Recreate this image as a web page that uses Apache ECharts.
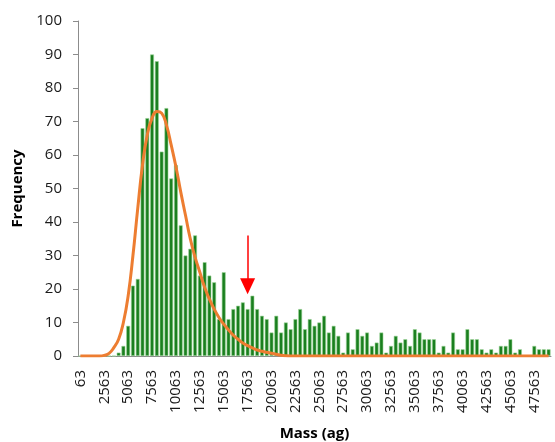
<!DOCTYPE html>
<html>
<head>
<meta charset="utf-8">
<title>Mass histogram</title>
<script src="https://cdn.jsdelivr.net/npm/echarts@6/dist/echarts.min.js"></script>
<style>
    html, body { margin: 0; padding: 0; background: #fff; }
    #chart { width: 555px; height: 442px; }
</style>
</head>
<body>
<div id="chart"></div>
<script>
// 分类（质量区间，单位 ag）
var massBins = [
    '63', '563', '1063', '1563', '2063', '2563', '3063', '3563', '4063', '4563',
    '5063', '5563', '6063', '6563', '7063', '7563', '8063', '8563', '9063', '9563',
    '10063', '10563', '11063', '11563', '12063', '12563', '13063', '13563', '14063', '14563',
    '15063', '15563', '16063', '16563', '17063', '17563', '18063', '18563', '19063', '19563',
    '20063', '20563', '21063', '21563', '22063', '22563', '23063', '23563', '24063', '24563',
    '25063', '25563', '26063', '26563', '27063', '27563', '28063', '28563', '29063', '29563',
    '30063', '30563', '31063', '31563', '32063', '32563', '33063', '33563', '34063', '34563',
    '35063', '35563', '36063', '36563', '37063', '37563', '38063', '38563', '39063', '39563',
    '40063', '40563', '41063', '41563', '42063', '42563', '43063', '43563', '44063', '44563',
    '45063', '45563', '46063', '46563', '47063', '47563', '48063', '48563', '49063'
];

// 频数（柱子）
var frequency = [
    0, 0, 0, 0, 0, 0, 0, 0, 1, 3,
    9, 21, 23, 68, 71, 90, 88, 61, 74, 53,
    57, 39, 30, 32, 36, 24, 28, 24, 22, 11,
    25, 11, 14, 15, 16, 14, 18, 14, 12, 11,
    7, 12, 7, 10, 8, 11, 14, 8, 11, 9,
    10, 12, 7, 9, 6, 1, 7, 2, 8, 6,
    7, 3, 4, 7, 1, 3, 6, 4, 5, 3,
    8, 7, 5, 5, 5, 1, 3, 1, 7, 2,
    2, 8, 5, 5, 2, 1, 2, 1, 3, 3,
    5, 1, 2, 0, 0, 3, 2, 2, 2
];

// 拟合曲线（橙色）
var fitCurve = [
    0, 0, 0, 0, 0, 0.2, 0.8, 2.5, 5, 10,
    18, 30, 44, 57, 66, 71, 73, 72.5, 69, 63,
    56.5, 49, 42, 35, 29.5, 25, 20.5, 17, 14, 11.5,
    9.5, 7.8, 6.2, 5, 3.9, 3.1, 2.4, 1.8, 1.4, 1.1,
    0.8, 0.5, 0.2, 0.05, 0, 0, 0, 0, 0, 0,
    0, 0, 0, 0, 0, 0, 0, 0, 0, 0,
    0, 0, 0, 0, 0, 0, 0, 0, 0, 0,
    0, 0, 0, 0, 0, 0, 0, 0, 0, 0,
    0, 0, 0, 0, 0, 0, 0, 0, 0, 0,
    0, 0, 0, 0, 0, 0, 0, 0, 0
];

// 红色箭头：所在区间及起止高度
var arrowBin = '17563';
var arrowFrom = [36];
var arrowTo = [20.8];

(function () {
    var font = '"Open Sans", "DejaVu Sans", sans-serif';
    var axisGray = '#8c8c8c';

    var option = {
        animation: false,
        textStyle: { fontFamily: font },
        grid: {
            left: 78,
            right: 4,
            top: 21,
            bottom: 86,
            outerBoundsMode: 'none'   // 不自动收缩绘图区
        },
        xAxis: {
            type: 'category',
            data: massBins,
            boundaryGap: true,
            name: 'Mass (ag)',
            nameLocation: 'middle',
            nameGap: 70,
            nameTextStyle: { fontSize: 15, fontWeight: 'bold', color: '#000', fontFamily: font },
            axisLine: { lineStyle: { color: axisGray, width: 1 } },
            axisTick: { interval: 0, length: 4, lineStyle: { color: axisGray } },
            axisLabel: {
                interval: 4,
                rotate: 90,
                margin: 14,
                fontSize: 15,
                color: '#1a1a1a',
                fontFamily: font
            },
            splitLine: { show: false }
        },
        yAxis: {
            type: 'value',
            min: 0,
            max: 100,
            interval: 10,
            name: 'Frequency',
            nameLocation: 'middle',
            nameGap: 52,
            nameTextStyle: { fontSize: 15, fontWeight: 'bold', color: '#000', fontFamily: font },
            axisLine: { show: true, lineStyle: { color: axisGray, width: 1 } },
            axisTick: { show: true, length: 5, lineStyle: { color: axisGray } },
            axisLabel: { fontSize: 15, color: '#1a1a1a', margin: 16, fontFamily: font },
            splitLine: { show: false }
        },
        series: [
            {
                name: 'Frequency',
                type: 'bar',
                data: frequency,
                barCategoryGap: '20%',
                itemStyle: {
                    color: '#1a7f1f',
                    borderColor: '#9bd396',
                    borderWidth: 0.6
                },
                markLine: {
                    silent: true,
                    symbol: ['none', 'triangle'],
                    symbolSize: [15, 16],
                    label: { show: false },
                    lineStyle: { color: '#ff0000', width: 1.5, type: 'solid' },
                    data: [
                        [
                            { coord: [arrowBin, arrowFrom[0]] },
                            { coord: [arrowBin, arrowTo[0]] }
                        ]
                    ]
                }
            },
            {
                name: 'Fit',
                type: 'line',
                data: fitCurve,
                smooth: true,
                symbol: 'none',
                z: 3,
                lineStyle: { color: '#ED7D31', width: 3 }
            }
        ]
    };

    var myechart = echarts.init(document.getElementById('chart'));
    myechart.setOption(option);
})();
</script>
</body>
</html>
